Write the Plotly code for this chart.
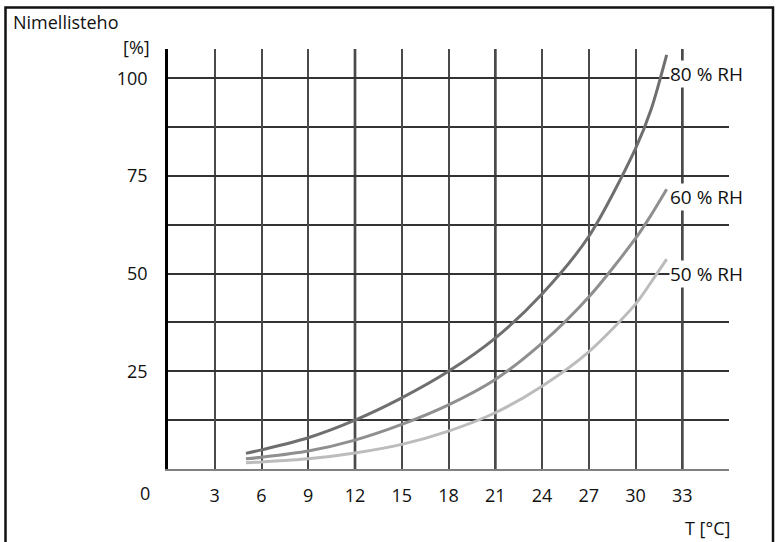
import plotly.graph_objects as go

# Data
temps = [5, 6, 9, 12, 15, 18, 21, 24, 27, 30, 31, 32]
rh80 = [4.0, 4.9, 8.0, 12.5, 18.2, 25.0, 33.5, 44.8, 59.5, 82.0, 92.0, 106.0]
rh60 = [2.6, 3.0, 4.6, 7.4, 11.4, 16.4, 22.9, 32.2, 44.0, 59.0, 65.0, 71.6]
rh50 = [1.6, 1.8, 2.6, 4.1, 6.3, 9.7, 14.4, 21.2, 30.0, 42.2, 47.8, 53.7]
series_names = ["80 % RH", "60 % RH", "50 % RH"]
series_colors = ["#6f6f6f", "#8f8f8f", "#bcbcbc"]
label_y = [101, 69.7, 50]
x_ticks = [3, 6, 9, 12, 15, 18, 21, 24, 27, 30, 33]
y_ticks = [25, 50, 75, 100]
thick_x = [12, 21, 33]

FONT = "Open Sans"

fig = go.Figure()
for name, vals, col in zip(series_names, [rh80, rh60, rh50], series_colors):
    fig.add_trace(go.Scatter(x=temps, y=vals, mode="lines", name=name,
                             line=dict(color=col, width=3, shape="spline", smoothing=0.8),
                             showlegend=False, hoverinfo="skip"))

for xv in thick_x:
    fig.add_shape(type="line", xref="x", yref="paper", x0=xv, x1=xv, y0=0, y1=1,
                  line=dict(color="#000000", width=2.5), layer="below")

for name, yv in zip(series_names, label_y):
    fig.add_annotation(x=32.15, y=yv, xref="x", yref="y", text=name, showarrow=False,
                       xanchor="left", yanchor="middle", bgcolor="white",
                       font=dict(family=FONT, size=19, color="#111"), borderpad=0)

W, H = 776, 542
L, R, T, B = 168, 47, 49, 73
pw, ph = W - L - R, H - T - B

def px(x):
    return (x - L) / pw

def py(y):
    return (H - B - y) / ph

# outer frame
fig.add_shape(type="rect", xref="paper", yref="paper",
              x0=px(5.5), x1=px(773), y0=py(560), y1=py(7.5),
              line=dict(color="#111", width=2.5), fillcolor="rgba(0,0,0,0)")

fig.add_annotation(xref="paper", yref="paper", x=px(11), y=py(22), text="Nimellisteho",
                   showarrow=False, xanchor="left", yanchor="middle",
                   font=dict(family=FONT, size=18, color="#111"))
fig.add_annotation(xref="paper", yref="paper", x=px(152), y=py(47), text="[%]",
                   showarrow=False, xanchor="right", yanchor="middle",
                   font=dict(family=FONT, size=18, color="#111"))
fig.add_annotation(xref="paper", yref="paper", x=px(732), y=py(528), text="T [°C]",
                   showarrow=False, xanchor="right", yanchor="middle",
                   font=dict(family=FONT, size=18, color="#111"))
fig.add_annotation(xref="paper", yref="paper", x=px(145), y=py(493), text="0",
                   showarrow=False, xanchor="center", yanchor="middle",
                   font=dict(family=FONT, size=18, color="#111"))

fig.update_xaxes(range=[0, 36], tickvals=x_ticks, showgrid=True, gridcolor="#4a4a4a",
                 gridwidth=1.5, zeroline=False, showline=True, linecolor="#808080",
                 linewidth=2, ticks="", ticklabelstandoff=9,
                 tickfont=dict(family=FONT, size=18, color="#111"), fixedrange=True)
fig.update_yaxes(range=[0, 107.5], tickvals=y_ticks, showgrid=True, gridcolor="#333333",
                 gridwidth=1.5, zeroline=False, showline=True, linecolor="#000000",
                 linewidth=2.5, ticks="", ticklabelstandoff=14,
                 minor=dict(tick0=0, dtick=12.5, showgrid=True, gridcolor="#333333", gridwidth=1.5),
                 tickfont=dict(family=FONT, size=18, color="#111"), fixedrange=True)

fig.update_layout(width=W, height=H, margin=dict(l=L, r=R, t=T, b=B),
                  paper_bgcolor="white", plot_bgcolor="white",
                  font=dict(family=FONT))

fig.write_html("out.html")
